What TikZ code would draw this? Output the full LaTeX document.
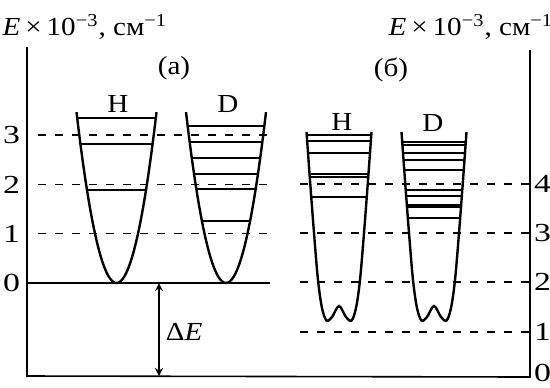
\documentclass[tikz,border=0pt]{standalone}
\usepackage{fontspec}
\setmainfont{Liberation Serif}
\usepackage{tikz}

\begin{document}
\begin{tikzpicture}[x=0.5pt,y=-0.5pt,line width=0.8pt,>=stealth,
    lbl/.style={font=\fontsize{13}{15}\selectfont,xscale=1.12,inner sep=0pt},
    tick/.style={font=\fontsize{13}{15}\selectfont,xscale=1.3,inner sep=0pt},
    grid/.style={dash pattern=on 4pt off 4.5pt,line width=0.7pt},
    well/.style={line width=1.2pt},
    lev/.style={line width=0.75pt}]
  \useasboundingbox (0,0) rectangle (550,387);
  \coordinate (La) at (27,47);
  \coordinate (Lb) at (27,376);
  \coordinate (Rb) at (530,377);
  \coordinate (Ra) at (530,50);
  \draw (La) -- (Lb) -- (Rb) -- (Ra);
  \node[lbl] (ttlL) at (85,27) {\textit{E}\,×\,10\textsuperscript{−3}, см\textsuperscript{−1}};
  \node[lbl] (ttlR) at (471,27) {\textit{E}\,×\,10\textsuperscript{−3}, см\textsuperscript{−1}};
  \node[lbl] (pa) at (174,68) {(а)};
  \node[lbl] (pb) at (391,70) {(б)};

  \foreach \y/\t in {283/0,233.7/1,184.4/2,135.1/3}
    \node[tick,anchor=east] (L\t) at (21,\y) {\t};
  \foreach \y in {233.7,184.4,135.1}
    \draw[grid] (38,\y) -- (270,\y);
  \draw (27,283) -- (270,283);
  \foreach \y/\t in {373/0,332/1,282/2,233/3,184/4}
    \node[tick,anchor=west] (R\t) at (533,\y) {\t};
  \foreach \y in {332,282,233,184}
    \draw[grid] (300,\y) -- (530,\y);

  \coordinate (dEt) at (159,283);
  \coordinate (dEb) at (159,376);
  \draw[<->] (dEt) -- (dEb);
  \node[lbl,anchor=west] (dE) at (165,332) {Δ\textit{E}};

  \foreach \c/\n in {116.5/H,226/D}
    \draw[well] plot[domain=-40:40,samples=41,smooth] ({\c+\x},{283-(\x/3.06)^2});
  \foreach \y in {118,144,190}
    \draw[lev] ({116.5-3.06*sqrt(283-\y)},\y) -- ({116.5+3.06*sqrt(283-\y)},\y);
  \foreach \y in {126,142,158,174,189,221}
    \draw[lev] ({226-3.06*sqrt(283-\y)},\y) -- ({226+3.06*sqrt(283-\y)},\y);
  \node[lbl] (Ha) at (118,104) {H};
  \node[lbl] (Da) at (228,104) {D};

  \foreach \c in {339,434}
    \draw[well] plot[smooth,tension=0.55] coordinates {(\c-32.5,132) (\c-28.8,183) (\c-25,233) (\c-21,280)
      (\c-17,308) (\c-12.5,320.5) (\c-7,317) (\c,306) (\c+7,317) (\c+12.5,320.5) (\c+17,308)
      (\c+21,280) (\c+25,233) (\c+28.8,183) (\c+32.5,132)};
  \foreach \y in {135,141,153,174,177,197}
    \draw[lev] ({339-32.5+7.5*(\y-132)/101},\y) -- ({339+32.5-7.5*(\y-132)/101},\y);
  \foreach \y in {142,145,153,160,170,190,196,205,207,218}
    \draw[lev] ({434-32.5+7.5*(\y-132)/101},\y) -- ({434+32.5-7.5*(\y-132)/101},\y);
  \node[lbl] (Hb) at (342,122) {H};
  \node[lbl] (Db) at (433,123) {D};
\end{tikzpicture}
\end{document}
